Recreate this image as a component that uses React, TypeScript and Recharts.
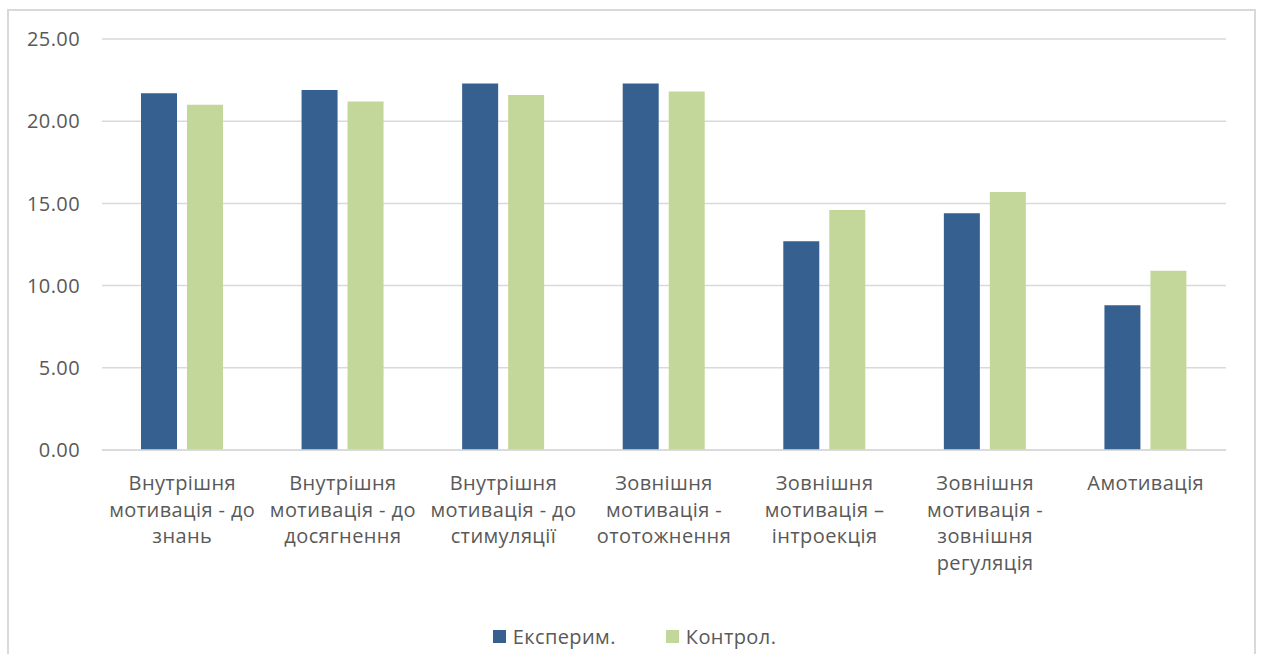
import React from "react";
import {Bar, BarChart, CartesianGrid, Legend, XAxis, YAxis} from "recharts";

// motivation scales (one row per category)
const categories = [
	"Внутрішня мотивація - до знань",
	"Внутрішня мотивація - до досягнення",
	"Внутрішня мотивація - до стимуляції",
	"Зовнішня мотивація - ототожнення",
	"Зовнішня мотивація – інтроекція",
	"Зовнішня мотивація - зовнішня регуляція",
	"Амотивація",
];

// how each category label wraps under the axis
const categoryLines = [
	["Внутрішня", "мотивація - до", "знань"],
	["Внутрішня", "мотивація - до", "досягнення"],
	["Внутрішня", "мотивація - до", "стимуляції"],
	["Зовнішня", "мотивація -", "ототожнення"],
	["Зовнішня", "мотивація –", "інтроекція"],
	["Зовнішня", "мотивація -", "зовнішня", "регуляція"],
	["Амотивація"],
];

const experimental = [21.7, 21.9, 22.3, 22.3, 12.7, 14.4, 8.8];
const control = [21.0, 21.2, 21.6, 21.8, 14.6, 15.7, 10.9];

const yTicks = [0, 5, 10, 15, 20, 25];

const FONT = "'Open Sans', sans-serif";
const TEXT = "#595959";
const BLUE = "#36608f";
const GREEN = "#c4d79b";

const data = categories.map((name, i) => ({
	name,
	exp: experimental[i],
	ctl: control[i],
}));

const CategoryTick = (props: any) => {
	const {x, y, index} = props;
	const lines = categoryLines[index] || [];
	return <text x={x} y={y + 32} textAnchor="middle" fill={TEXT} fontSize={20} letterSpacing={0.4} fontFamily={FONT}>
		{lines.map((l, i) => <tspan key={i} x={x} dy={i === 0 ? 0 : 26.5}>{l}</tspan>)}
	</text>;
};

const renderLegend = (props: any) => {
	const {payload} = props;
	return <div style={{display: "flex", justifyContent: "center", paddingLeft: 34, fontFamily: FONT, fontSize: 20,
		letterSpacing: 0.4, color: TEXT}}>
		{payload.map((p: any, i: number) => <div key={i} style={{display: "flex", alignItems: "center", marginLeft: i ? 50 : 0}}>
			<span style={{display: "inline-block", width: 13, height: 13, background: p.color, marginRight: 7}}/>
			<span>{p.value}</span>
		</div>)}
	</div>;
};

export default function App() {
	return <div style={{
		position: "fixed", left: 7, top: 9, width: 1249, height: 645, boxSizing: "border-box",
		border: "2px solid #d9d9d9", borderBottom: "none", background: "#fff",
	}}>
		<BarChart width={1245} height={643} data={data} margin={{top: 28, right: 28, left: 0, bottom: 7}}
							barGap={10} barSize={36}>
			<CartesianGrid vertical={false} stroke="#d9d9d9" strokeWidth={1.5}/>
			<XAxis dataKey="name" height={173} tick={<CategoryTick/>} tickLine={false} interval={0}
						 axisLine={{stroke: "#d9d9d9", strokeWidth: 1.5}}/>
			<YAxis width={93} domain={[0, 25]} ticks={yTicks} tickFormatter={(v: number) => v.toFixed(2)}
						 axisLine={false} tickLine={false} tickSize={0} tickMargin={22}
						 tick={{fill: TEXT, fontSize: 20, letterSpacing: 0.4, fontFamily: FONT}}/>
			<Legend verticalAlign="bottom" height={24} content={renderLegend}/>
			<Bar dataKey="exp" name="Експерим." fill={BLUE} isAnimationActive={false}/>
			<Bar dataKey="ctl" name="Контрол." fill={GREEN} isAnimationActive={false}/>
		</BarChart>
	</div>;
}
